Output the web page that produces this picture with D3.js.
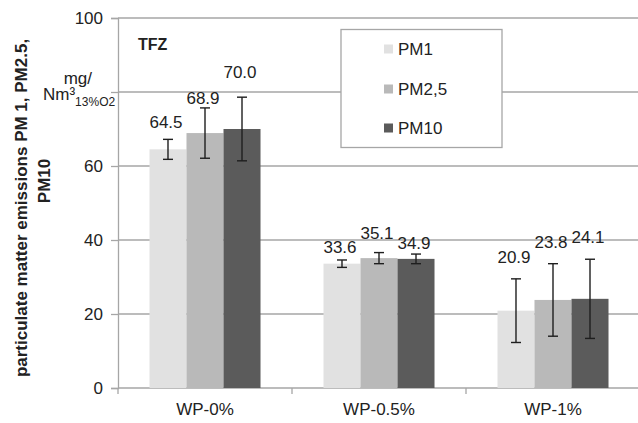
<!DOCTYPE html>
<html>
<head>
<meta charset="utf-8">
<script src="https://cdn.jsdelivr.net/npm/d3@7"></script>
<style>
  html, body { margin: 0; padding: 0; background: #fff; }
  svg { display: block; font-family: "Liberation Sans", Arial, sans-serif; }
</style>
</head>
<body>
<div id="chart"></div>
<script>
// data
const categories = ['WP-0%', 'WP-0.5%', 'WP-1%'];
const seriesNames = ['PM1', 'PM2,5', 'PM10'];
const pm1 = [64.5, 33.6, 20.9];
const pm25 = [68.9, 35.1, 23.8];
const pm10 = [70.0, 34.9, 24.1];
const pm1Err = [2.7, 1.0, 8.6];
const pm25Err = [6.8, 1.5, 9.8];
const pm10Err = [8.6, 1.3, 10.7];
const yTicks = [0, 20, 40, 60, 80, 100];
// the 80 label is replaced by the unit text in the original
const yTickLabels = ['0', '20', '40', '60', '', '100'];

const width = 638;
const height = 423;
const margin = { top: 18, right: -2, bottom: 35, left: 118 };
const colors = ['#e1e1e1', '#b9b9b9', '#5b5b5b'];
const textColor = '#222';
const gridColor = '#a6a6a6';

// label placement above the error bar top, in px (hand placed in the original)
const labelLift = [
  [17, 13, 22],
  [10, 20, 22],
  [25, 11, 22],
];

const values = [pm1, pm25, pm10];
const errors = [pm1Err, pm25Err, pm10Err];

const rows = [];
categories.forEach((cat, ci) => {
  seriesNames.forEach((s, si) => {
    rows.push({ cat, series: s, si, ci, value: values[si][ci], err: errors[si][ci] });
  });
});

const svg = d3.select('#chart')
  .append('svg')
  .attr('width', width)
  .attr('height', height);

const x = d3.scaleBand()
  .domain(categories)
  .range([margin.left, width - margin.right])
  .paddingInner(0)
  .paddingOuter(0);

const xInner = d3.scaleBand()
  .domain(seriesNames)
  .range([0, x.bandwidth()])
  .paddingInner(0)
  .paddingOuter(0.851);

const y = d3.scaleLinear()
  .domain([0, 100])
  .range([height - margin.bottom, margin.top]);

// grid lines
svg.append('g')
  .selectAll('line')
  .data(yTicks)
  .join('line')
  .attr('x1', margin.left)
  .attr('x2', width)
  .attr('y1', d => y(d))
  .attr('y2', d => y(d))
  .attr('stroke', gridColor)
  .attr('stroke-width', 1.3);

// y axis
const yAxis = svg.append('g')
  .attr('transform', `translate(${margin.left},0)`)
  .call(d3.axisLeft(y).tickValues(yTicks).tickSize(7).tickPadding(8)
    .tickFormat((d, i) => yTickLabels[i]));
yAxis.select('.domain').attr('stroke', gridColor).attr('stroke-width', 1.3);
yAxis.selectAll('.tick line').attr('stroke', gridColor).attr('stroke-width', 1.3);
yAxis.selectAll('text')
  .attr('fill', textColor)
  .style('font-size', '17px');

// x axis
const xAxis = svg.append('g')
  .attr('transform', `translate(0,${y(0)})`)
  .call(d3.axisBottom(x).tickSize(0).tickPadding(15));
xAxis.select('.domain').remove();
xAxis.selectAll('text')
  .attr('fill', textColor)
  .style('font-size', '17px');

svg.append('g')
  .selectAll('line')
  .data(categories.concat(['end']))
  .join('line')
  .attr('x1', (d, i) => margin.left + i * x.step())
  .attr('x2', (d, i) => margin.left + i * x.step())
  .attr('y1', y(0))
  .attr('y2', y(0) + 6)
  .attr('stroke', gridColor)
  .attr('stroke-width', 1.3);

// bars
svg.append('g')
  .selectAll('rect')
  .data(rows)
  .join('rect')
  .attr('x', d => x(d.cat) + xInner(d.series))
  .attr('y', d => y(d.value))
  .attr('width', xInner.bandwidth())
  .attr('height', d => y(0) - y(d.value))
  .attr('fill', d => colors[d.si]);

// error bars
const eb = svg.append('g')
  .attr('stroke', '#1e1e1e')
  .attr('stroke-width', 1.4);
rows.forEach(d => {
  const cx = x(d.cat) + xInner(d.series) + xInner.bandwidth() / 2;
  const top = y(d.value + d.err);
  const bottom = y(d.value - d.err);
  eb.append('line').attr('x1', cx).attr('x2', cx).attr('y1', top).attr('y2', bottom);
  eb.append('line').attr('x1', cx - 5).attr('x2', cx + 5).attr('y1', top).attr('y2', top);
  eb.append('line').attr('x1', cx - 5).attr('x2', cx + 5).attr('y1', bottom).attr('y2', bottom);
});

// value labels
svg.append('g')
  .selectAll('text')
  .data(rows)
  .join('text')
  .attr('x', d => x(d.cat) + xInner(d.series) + xInner.bandwidth() / 2 - 2)
  .attr('y', d => y(d.value + d.err) - labelLift[d.si][d.ci])
  .attr('dy', '0.35em')
  .attr('text-anchor', 'middle')
  .attr('fill', textColor)
  .style('font-size', '17px')
  .text(d => d3.format('.1f')(d.value));

// TFZ tag
svg.append('text')
  .attr('x', 138)
  .attr('y', 50)
  .attr('fill', textColor)
  .style('font-size', '16px')
  .style('font-weight', 'bold')
  .text('TFZ');

// unit text
const unit = svg.append('g').attr('fill', textColor).style('font-size', '17px');
unit.append('text')
  .attr('x', 92)
  .attr('y', 84)
  .attr('text-anchor', 'end')
  .text('mg/');
const unit2 = unit.append('text')
  .attr('x', 43)
  .attr('y', 100);
unit2.append('tspan').text('Nm³');
unit2.append('tspan').attr('dy', 6).style('font-size', '12px').text('13%O2');

// y title
const yTitle = svg.append('g')
  .attr('fill', textColor)
  .style('font-size', '17px')
  .style('font-weight', 'bold')
  .attr('text-anchor', 'middle');
yTitle.append('text')
  .attr('transform', 'translate(27,208) rotate(-90)')
  .text('particulate matter emissions PM 1, PM2.5,');
yTitle.append('text')
  .attr('transform', 'translate(50,181) rotate(-90)')
  .text('PM10');

// legend
const legend = svg.append('g');
legend.append('rect')
  .attr('x', 341)
  .attr('y', 29.5)
  .attr('width', 161)
  .attr('height', 118)
  .attr('fill', '#fff')
  .attr('stroke', '#a6a6a6')
  .attr('stroke-width', 1.3);
const legendY = [49, 89, 128];
seriesNames.forEach((s, i) => {
  legend.append('rect')
    .attr('x', 384)
    .attr('y', legendY[i] - 4.5)
    .attr('width', 9)
    .attr('height', 9)
    .attr('fill', colors[i]);
  legend.append('text')
    .attr('x', 398)
    .attr('y', legendY[i])
    .attr('dy', '0.35em')
    .attr('fill', textColor)
    .style('font-size', '17px')
    .text(s);
});
</script>
</body>
</html>
